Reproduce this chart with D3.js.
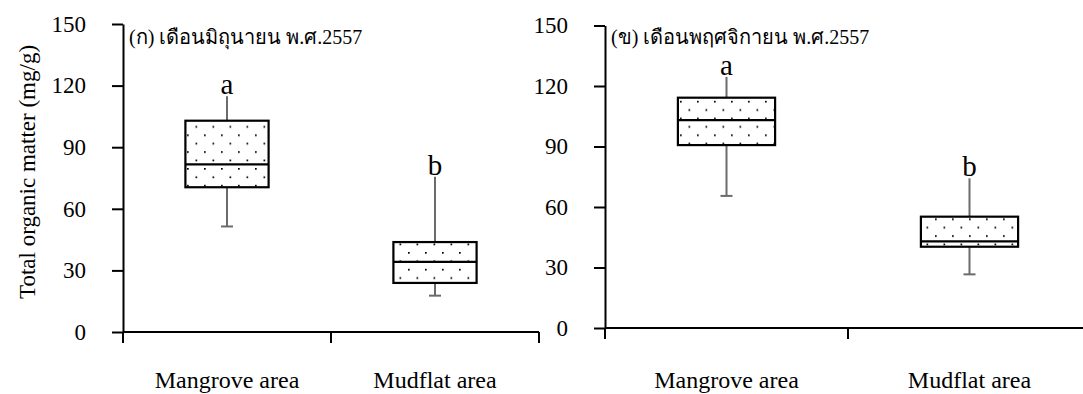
<!DOCTYPE html>
<html>
<head>
<meta charset="utf-8">
<script src="https://cdn.jsdelivr.net/npm/d3@7"></script>
<style>
  html, body { margin: 0; padding: 0; background: #fff; }
  svg { display: block; }
</style>
</head>
<body>
<svg id="chart" width="1083" height="394"></svg>
<script>
// Sampling sites
const categories = ["Mangrove area", "Mudflat area"];

// Panel captions (month of sampling)
const panelTitles = ["(ก) เดือนมิถุนายน พ.ศ.2557", "(ข) เดือนพฤศจิกายน พ.ศ.2557"];

// Total organic matter (mg/g), June 2014
const juneMin    = [51.4, 17.7];
const juneQ1     = [70.5, 23.9];
const juneMedian = [81.6, 34.2];
const juneQ3     = [102.9, 43.8];
const juneMax    = [114.8, 75.6];
const juneGroups = ["a", "b"];

// Total organic matter (mg/g), November 2014
const novMin    = [65.5, 26.6];
const novQ1     = [90.7, 40.3];
const novMedian = [103.1, 43.0];
const novQ3     = [114.2, 55.2];
const novMax    = [124.5, 74.2];
const novGroups = ["a", "b"];

const yTicks = [0, 30, 60, 90, 120, 150];
const yTitle = "Total organic matter (mg/g)";

const SERIF = '"Liberation Serif", "Times New Roman", "DejaVu Serif", serif';

const svg = d3.select("#chart");

// Dotted fill used inside the boxes
const defs = svg.append("defs");
const pat = defs.append("pattern")
  .attr("id", "dots")
  .attr("patternUnits", "userSpaceOnUse")
  .attr("width", 17).attr("height", 16.8);
pat.append("rect").attr("width", 17).attr("height", 16.8).attr("fill", "#fff");
pat.append("rect").attr("x", 0).attr("y", 0).attr("width", 1.7).attr("height", 1.7).attr("fill", "#000");
pat.append("rect").attr("x", 8.5).attr("y", 8.4).attr("width", 1.7).attr("height", 1.7).attr("fill", "#000");

const panels = [
  { title: panelTitles[0], min: juneMin, q1: juneQ1, med: juneMedian, q3: juneQ3, max: juneMax, groups: juneGroups,
    x0: 123, x1: 539, yBottom: 332, yTop: 24 },
  { title: panelTitles[1], min: novMin, q1: novQ1, med: novMedian, q3: novQ3, max: novMax, groups: novGroups,
    x0: 605, x1: 1091, yBottom: 328, yTop: 25.5 }
];

panels.forEach(p => {
  const g = svg.append("g");
  const x = d3.scaleBand().domain(categories).range([p.x0, p.x1]).paddingInner(0).paddingOuter(0);
  const y = d3.scaleLinear().domain([0, 150]).range([p.yBottom, p.yTop]);

  // Y axis with outward ticks
  const yAxis = g.append("g")
    .attr("transform", `translate(${p.x0},0)`)
    .call(d3.axisLeft(y).tickValues(yTicks).tickSize(11).tickPadding(26).tickSizeOuter(0));
  yAxis.attr("font-family", null).attr("font-size", null);
  yAxis.select(".domain").attr("stroke", "#000").attr("stroke-width", 2);
  yAxis.selectAll(".tick line").attr("stroke", "#000").attr("stroke-width", 2);
  yAxis.selectAll(".tick text")
    .style("font-size", "23px")
    .attr("fill", "#000");

  // X axis: baseline with ticks at category boundaries
  const xy = y(0);
  g.append("line")
    .attr("x1", p.x0).attr("x2", p.x1)
    .attr("y1", xy).attr("y2", xy)
    .attr("stroke", "#000").attr("stroke-width", 2);
  const edges = categories.map(c => x(c)).concat([x(categories[categories.length - 1]) + x.bandwidth()]);
  g.selectAll(".xedge").data(edges).join("line")
    .attr("class", "xedge")
    .attr("x1", d => d).attr("x2", d => d)
    .attr("y1", xy).attr("y2", xy + 11)
    .attr("stroke", "#000").attr("stroke-width", 2);

  // Category labels
  g.selectAll(".cat").data(categories).join("text")
    .attr("class", "cat")
    .attr("x", d => x(d) + x.bandwidth() / 2)
    .attr("y", 388)
    .attr("text-anchor", "middle")
    .style("font-size", "24px")
    .text(d => d);

  const boxW = x.bandwidth() * 0.4;
  const cx = i => x(categories[i]) + x.bandwidth() / 2;
  const idx = d3.range(categories.length);

  // Whiskers (gray), capped at the minimum only
  g.selectAll(".whisker").data(idx).join("line")
    .attr("class", "whisker")
    .attr("x1", cx).attr("x2", cx)
    .attr("y1", i => y(p.max[i])).attr("y2", i => y(p.min[i]))
    .attr("stroke", "#6b6b6b").attr("stroke-width", 2);
  g.selectAll(".cap").data(idx).join("line")
    .attr("class", "cap")
    .attr("x1", i => cx(i) - 6).attr("x2", i => cx(i) + 6)
    .attr("y1", i => y(p.min[i])).attr("y2", i => y(p.min[i]))
    .attr("stroke", "#6b6b6b").attr("stroke-width", 2);

  // Boxes (Q1..Q3) with dotted fill
  g.selectAll(".box").data(idx).join("rect")
    .attr("class", "box")
    .attr("x", i => cx(i) - boxW / 2)
    .attr("y", i => y(p.q3[i]))
    .attr("width", boxW)
    .attr("height", i => y(p.q1[i]) - y(p.q3[i]))
    .attr("fill", "url(#dots)")
    .attr("stroke", "#000").attr("stroke-width", 2.2);

  // Median lines
  g.selectAll(".median").data(idx).join("line")
    .attr("class", "median")
    .attr("x1", i => cx(i) - boxW / 2).attr("x2", i => cx(i) + boxW / 2)
    .attr("y1", i => y(p.med[i])).attr("y2", i => y(p.med[i]))
    .attr("stroke", "#000").attr("stroke-width", 2.2);

  // Significance letters
  g.selectAll(".grp").data(idx).join("text")
    .attr("class", "grp")
    .attr("x", cx)
    .attr("y", i => y(p.max[i]) - 2)
    .attr("text-anchor", "middle")
    .style("font-size", "29px")
    .text(i => p.groups[i]);

  // Panel caption
  g.append("text")
    .attr("x", p.x0 + 6)
    .attr("y", 44)
    .style("font-size", "20px")
    .text(p.title);
});

// Shared y-axis title
svg.append("text")
  .attr("transform", "translate(35,172) rotate(-90)")
  .attr("text-anchor", "middle")
  .style("font-size", "23px")
  .text(yTitle);

// Serif face for every label
svg.selectAll("text").style("font-family", SERIF).attr("fill", "#000");
</script>
</body>
</html>
